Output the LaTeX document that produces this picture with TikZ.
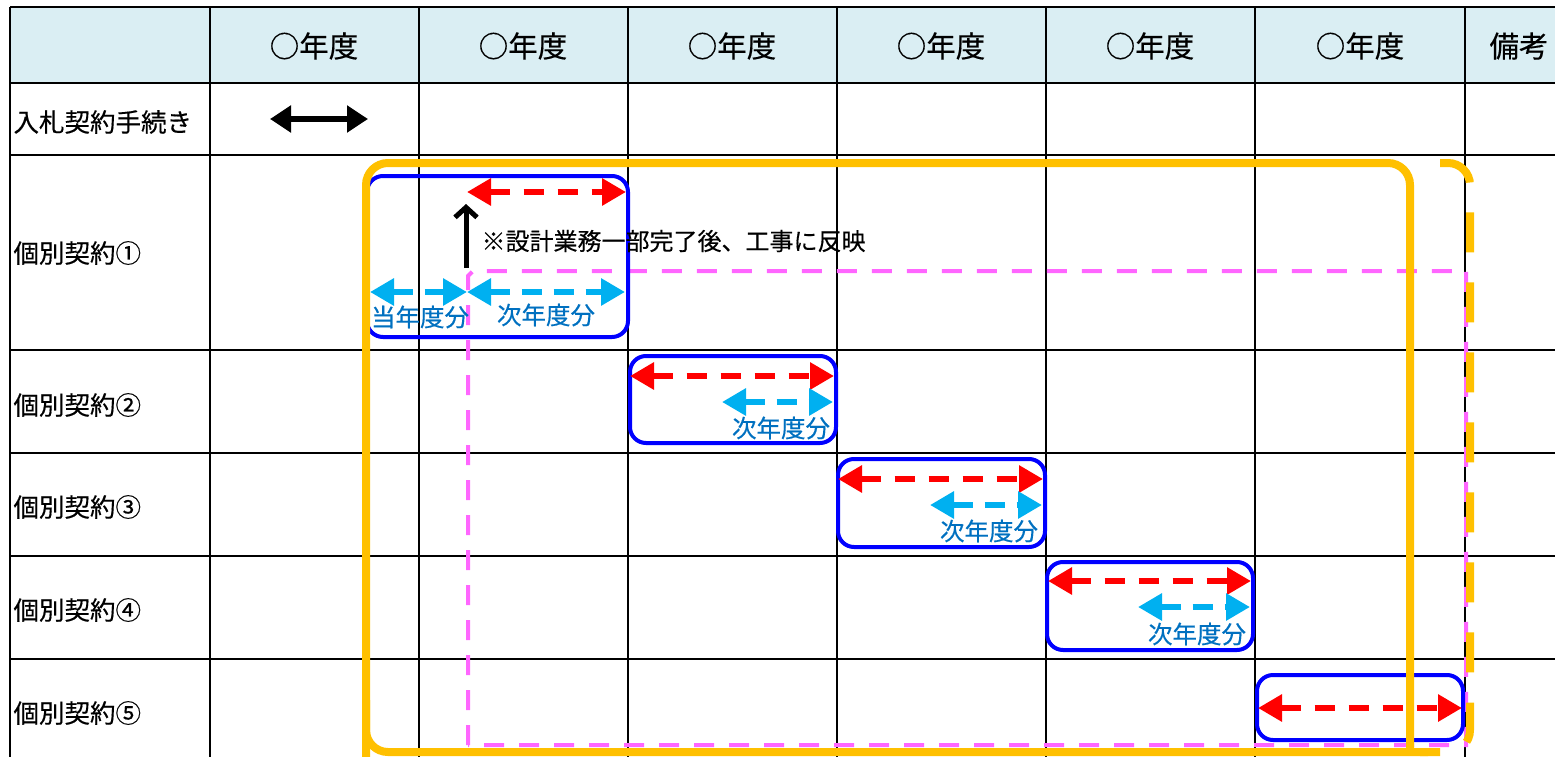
\documentclass[tikz,border=0pt]{standalone}
\usepackage{fontspec}
\setmainfont{Noto Sans CJK JP}[FakeBold=0.4]
\usetikzlibrary{arrows.meta}
\definecolor{hdr}{HTML}{DAEEF3}
\definecolor{orng}{HTML}{FFC000}
\definecolor{pnk}{HTML}{FF66FF}
\definecolor{cyn}{HTML}{00B0F0}
\definecolor{lbl}{HTML}{0070C0}
\tikzset{
  grid/.style={line width=2.6pt,black},
  hdrtxt/.style={font=\fontsize{29.5}{32}\selectfont,anchor=center},
  rowtxt/.style={font=\fontsize{25.5}{28}\selectfont,anchor=west},
  notetxt/.style={font=\fontsize{24}{27}\selectfont,anchor=west},
  bluetxt/.style={font=\fontsize{24.5}{27}\selectfont,text=lbl,anchor=center},
  bluebox/.style={draw=blue,line width=4pt,rounded corners=16pt},
  redarr/.style={red,line width=6.5pt,dash pattern=on 20pt off 14pt,{Triangle[length=24pt,width=26pt]}-{Triangle[length=24pt,width=26pt]}},
  cyanarr/.style={cyn,line width=6.5pt,dash pattern=on 20pt off 12pt,{Triangle[length=24pt,width=26pt]}-{Triangle[length=24pt,width=26pt]}},
  blackarr/.style={black,line width=6pt,{Triangle[length=21pt,width=26pt]}-{Triangle[length=21pt,width=26pt]}},
  uparr/.style={black,line width=5pt,-{Straight Barb[length=10pt,width=22pt]}},
  pinkbox/.style={draw=pnk,line width=4pt,dash pattern=on 20pt off 15pt},
  orangesolid/.style={draw=orng,line width=8pt,rounded corners=22pt},
  orangedash/.style={draw=orng,line width=8pt,dash pattern=on 40pt off 30pt,rounded corners=22pt},
}
\begin{document}
\begin{tikzpicture}[x=1pt,y=-1pt]
\useasboundingbox (0,0) rectangle (1555,757);
\begin{scope}
\clip (0,0) rectangle (1555,757);
% header fill
\fill[hdr] (10,7) rectangle (1560,83);
% grid
\foreach \x in {10,210,419,628,837,1046,1255,1465} \draw[grid] (\x,7) -- (\x,760);
\foreach \y in {7,83,155,350,453,556,659} \draw[grid] (10,\y) -- (1560,\y);
\end{scope}
% header texts
\foreach \x/\n in {314/h1,523/h2,732/h3,941/h4,1150/h5,1360/h6} \node[hdrtxt] (\n) at (\x,46) {○年度};
\node[hdrtxt,anchor=west] (h7) at (1486,46) {備考};
% row labels
\node[rowtxt] (r0) at (10,122) {入札契約手続き};
\node[rowtxt] (r1) at (10,253) {個別契約①};
\node[rowtxt] (r2) at (10,405) {個別契約②};
\node[rowtxt] (r3) at (10,507) {個別契約③};
\node[rowtxt] (r4) at (10,610) {個別契約④};
\node[rowtxt] (r5) at (10,713) {個別契約⑤};
% bid arrow
\coordinate (b0) at (270,119); \coordinate (b1) at (368,119);
\draw[blackarr] (b0) -- (b1);
% pink dashed box
\draw[pinkbox] (468,745) -- (468,276) coordinate (p0) -- (473,271) -- (1466,271) -- (1466,745) -- cycle;
% blue boxes
\draw[bluebox] (367,176) rectangle (628,337);
\draw[bluebox] (630,356) rectangle (836,443);
\draw[bluebox] (838,459) rectangle (1045,547);
\draw[bluebox] (1047,562) rectangle (1253,650);
\draw[bluebox] (1257,675) rectangle (1463,740);
% orange
\draw[orangesolid] (366,760) |- (1410,163) -- (1410,752);
\draw[orangesolid] (366,700) |- (1428,752);
\draw[orangedash] (1440,163) -| (1470,752) -- (1420,752);
% red arrows
\coordinate (ra0) at (467,192); \coordinate (ra1) at (626,192);
\coordinate (rb0) at (630,376); \coordinate (rb1) at (834,376);
\coordinate (rc0) at (838,479); \coordinate (rc1) at (1043,479);
\coordinate (rd0) at (1048,581); \coordinate (rd1) at (1251,581);
\coordinate (re0) at (1258,708); \coordinate (re1) at (1462,708);
\draw[redarr] (ra0) -- (ra1);
\draw[redarr] (rb0) -- (rb1);
\draw[redarr] (rc0) -- (rc1);
\draw[redarr] (rd0) -- (rd1);
\draw[redarr] (re0) -- (re1);
% cyan arrows
\coordinate (ca0) at (370,292); \coordinate (ca1) at (467,292); \coordinate (ca2) at (625,292);
\coordinate (cb0) at (722,402); \coordinate (cb1) at (833,402);
\coordinate (cc0) at (930,505); \coordinate (cc1) at (1042,505);
\coordinate (cd0) at (1138,607); \coordinate (cd1) at (1250,607);
\draw[cyanarr] (ca0) -- (ca1);
\draw[cyanarr] (ca1) -- (ca2);
\draw[cyanarr] (cb0) -- (cb1);
\draw[cyanarr] (cc0) -- (cc1);
\draw[cyanarr] (cd0) -- (cd1);
% blue labels
\node[bluetxt] (l1) at (420,317) {当年度分};
\node[bluetxt] (l2) at (546,315) {次年度分};
\node[bluetxt] (l3) at (781,428) {次年度分};
\node[bluetxt] (l4) at (989,531) {次年度分};
\node[bluetxt] (l5) at (1197,634) {次年度分};
% note
\coordinate (u0) at (466,268); \coordinate (u1) at (466,204);
\draw[uparr] (u0) -- (u1);
\node[notetxt] (note) at (478,241) {※設計業務一部完了後、工事に反映};
\end{tikzpicture}
\end{document}
